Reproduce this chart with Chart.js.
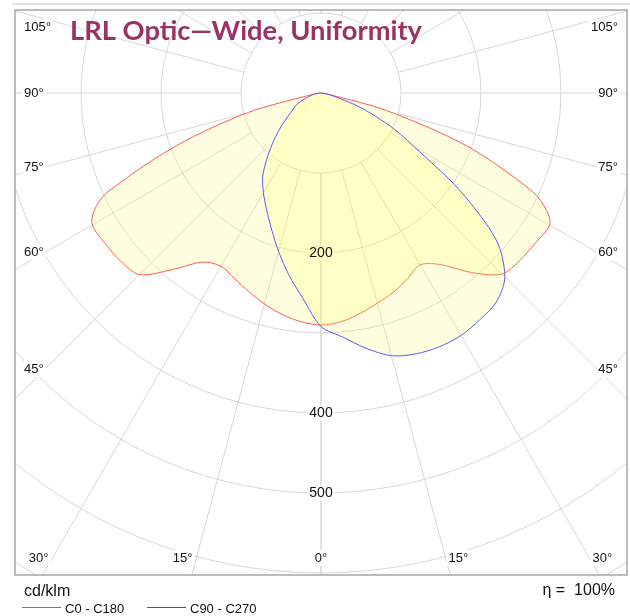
<!DOCTYPE html>
<html>
<head>
<meta charset="utf-8">
<script src="https://cdn.jsdelivr.net/npm/chart.js@4"></script>
<style>
  body { margin: 0; background: #fff; }
  canvas { display: block; }
</style>
</head>
<body>
<canvas id="polar" width="630" height="616"></canvas>
<script>
// vertical angles (deg from nadir) and luminous intensity, cd/klm
const gammas = [0, 5, 10, 15, 20, 25, 30, 35, 40, 45, 50, 55, 60, 62.5, 65, 70, 75, 80, 85, 90]
const c0   = [290, 287, 280, 272, 265, 256, 248, 262, 293, 320, 325, 327, 330, 318, 292, 195, 85, 10, 0, 0]
const c180 = [290, 287, 281, 273, 264, 256, 250, 258, 288, 321, 327, 329, 330, 320, 296, 192, 95, 12, 0, 0]
const c90  = [292, 306, 324, 340, 347, 350, 350, 346, 341, 325, 286, 211, 135, 112, 91, 52, 20, 8, 2, 0]
const c270 = [292, 258, 231, 205, 181, 161, 144, 127, 104, 83, 65, 50, 40, 36, 33, 22, 14, 8, 3, 0]

const rings = [100, 200, 300, 400, 500, 600, 700]
const ringLabels = [200, 400, 500]
const sideTicks = [45, 60, 75, 90, 105]
const bottomTicks = [0, 15, 30]

const rad = d => d * Math.PI / 180

// left half goes 90 -> 0, right half 0 -> 90, closed at the centre
function toXY(left, right) {
  const pts = []
  for (let i = gammas.length - 1; i >= 0; i--) {
    const g = rad(gammas[i])
    pts.push({ x: -left[i] * Math.sin(g), y: -left[i] * Math.cos(g) })
  }
  for (let i = 1; i < gammas.length; i++) {
    const g = rad(gammas[i])
    pts.push({ x: right[i] * Math.sin(g), y: -right[i] * Math.cos(g) })
  }
  return pts
}

const FONT = "'Liberation Sans', Arial, sans-serif"

function labelBox(ctx, text, x, y, align, noText) {
  ctx.textAlign = align
  ctx.textBaseline = 'middle'
  const w = ctx.measureText(text).width
  let bx = x
  if (align === 'center') bx = x - w / 2
  if (align === 'right') bx = x - w
  ctx.fillStyle = '#fff'
  ctx.fillRect(bx - 2, y - 8, w + 4, 16)
  if (noText) return
  ctx.fillStyle = '#111'
  ctx.fillText(text, x, y)
}

function centre(chart) {
  const { x, y } = chart.scales
  const cx = x.getPixelForValue(0)
  return { cx, cy: y.getPixelForValue(0), unit: x.getPixelForValue(100) - cx }
}

const polarGrid = {
  id: 'polarGrid',
  beforeDatasetsDraw(chart) {
    const { ctx, chartArea: a } = chart
    const { cx, cy, unit } = centre(chart)
    ctx.save()
    ctx.beginPath()
    ctx.rect(a.left, a.top, a.right - a.left, a.bottom - a.top)
    ctx.clip()
    ctx.strokeStyle = '#d6d6d6'
    ctx.lineWidth = 1
    rings.forEach(v => {
      ctx.beginPath()
      ctx.arc(cx, cy, v / 100 * unit, 0, Math.PI * 2)
      ctx.stroke()
    })
    for (let g = 0; g <= 180; g += 15) {
      [-1, 1].forEach(s => {
        const sx = Math.sin(rad(g)) * s, sy = Math.cos(rad(g))
        ctx.beginPath()
        ctx.moveTo(cx + sx * unit, cy + sy * unit)
        ctx.lineTo(cx + sx * unit * 10, cy + sy * unit * 10)
        ctx.stroke()
      })
    }
    // white patches under the value labels, text comes after the fills
    ctx.font = '14px ' + FONT
    ringLabels.forEach(v => labelBox(ctx, String(v), cx, cy + v / 100 * unit, 'center', true))
    ctx.restore()
  },
  afterDatasetsDraw(chart) {
    const { ctx } = chart
    const { cx, cy, unit } = centre(chart)
    ctx.save()
    ctx.font = '14px ' + FONT
    ctx.fillStyle = '#111'
    ctx.textAlign = 'center'
    ctx.textBaseline = 'middle'
    ringLabels.forEach(v => ctx.fillText(String(v), cx, cy + v / 100 * unit))
    ctx.restore()
  },
  afterDraw(chart) {
    const { ctx, chartArea: a } = chart
    const { cx, cy } = centre(chart)
    ctx.save()
    ctx.strokeStyle = '#e2e2e2'
    ctx.lineWidth = 2
    ctx.beginPath()
    ctx.moveTo(12, 4)
    ctx.lineTo(630, 4)
    ctx.stroke()
    ctx.strokeStyle = '#a6a6a6'
    ctx.lineWidth = 1.5
    ctx.strokeRect(a.left, a.top, a.right - a.left, a.bottom - a.top)

    ctx.font = '13px ' + FONT
    sideTicks.forEach(g => {
      const r = (cx - (a.left + 30)) / Math.sin(rad(g))
      const y = Math.max(a.top + 17, cy + r * Math.cos(rad(g)))
      labelBox(ctx, g + '°', a.left + 9, y, 'left')
      labelBox(ctx, g + '°', a.right - 9, y, 'right')
    })
    bottomTicks.forEach(g => {
      const y = a.bottom - 17
      const r = (y - cy) / Math.cos(rad(g))
      const dx = r * Math.sin(rad(g))
      if (g === 0) {
        labelBox(ctx, '0°', cx, y, 'center')
      } else {
        labelBox(ctx, g + '°', cx - dx - 4, y, 'right')
        labelBox(ctx, g + '°', cx + dx + 3, y, 'left')
      }
    })

    // title
    const title = 'LRL Optic\u2014Wide, Uniformity'
    ctx.font = 'bold 26px Lato, sans-serif'
    const tw = ctx.measureText(title).width
    ctx.save()
    ctx.translate(70, 40)
    ctx.scale(352 / tw, 1)
    ctx.fillStyle = '#993366'
    ctx.textAlign = 'left'
    ctx.textBaseline = 'alphabetic'
    ctx.fillText(title, 0, 0)
    ctx.restore()

    // footer
    ctx.fillStyle = '#111'
    ctx.textBaseline = 'alphabetic'
    ctx.font = '16px ' + FONT
    ctx.textAlign = 'left'
    ctx.fillText('cd/klm', 24, 596)
    ctx.textAlign = 'right'
    ctx.fillText('\u03b7 =  100%', 615, 595)

    ctx.font = '13px ' + FONT
    ctx.textAlign = 'left'
    const legend = [['C0 - C180', '#ff4040', 22], ['C90 - C270', '#4040ff', 147]]
    legend.forEach(([t, c, x]) => {
      ctx.strokeStyle = c
      ctx.lineWidth = 1
      ctx.beginPath()
      ctx.moveTo(x, 607.5)
      ctx.lineTo(x + 39, 607.5)
      ctx.stroke()
      ctx.fillStyle = '#111'
      ctx.fillText(t, x + 43, 612.5)
    })
    ctx.restore()
  }
}

const ctx = document.getElementById('polar').getContext('2d')

new Chart(ctx, {
  type: 'scatter',
  data: {
    datasets: [{
      label: 'C90 - C270',
      data: toXY(c270, c90),
      showLine: true,
      borderColor: '#5a5aff',
      borderWidth: 1,
      backgroundColor: 'rgba(255, 250, 90, 0.2)',
      fill: 'shape',
      pointRadius: 0,
      tension: 0.3
    }, {
      label: 'C0 - C180',
      data: toXY(c180, c0),
      showLine: true,
      borderColor: '#ff5a5a',
      borderWidth: 1,
      backgroundColor: 'rgba(255, 250, 90, 0.2)',
      fill: 'shape',
      pointRadius: 0,
      tension: 0.3
    }]
  },
  options: {
    responsive: false,
    animation: false,
    layout: { padding: { left: 15, right: 3, top: 10, bottom: 41 } },
    plugins: {
      legend: { display: false },
      tooltip: { enabled: false }
    },
    scales: {
      x: { type: 'linear', min: -382.5, max: 382.5, display: false },
      y: { type: 'linear', min: -602.5, max: 103.75, display: false }
    }
  },
  plugins: [polarGrid]
})
</script>
</body>
</html>
